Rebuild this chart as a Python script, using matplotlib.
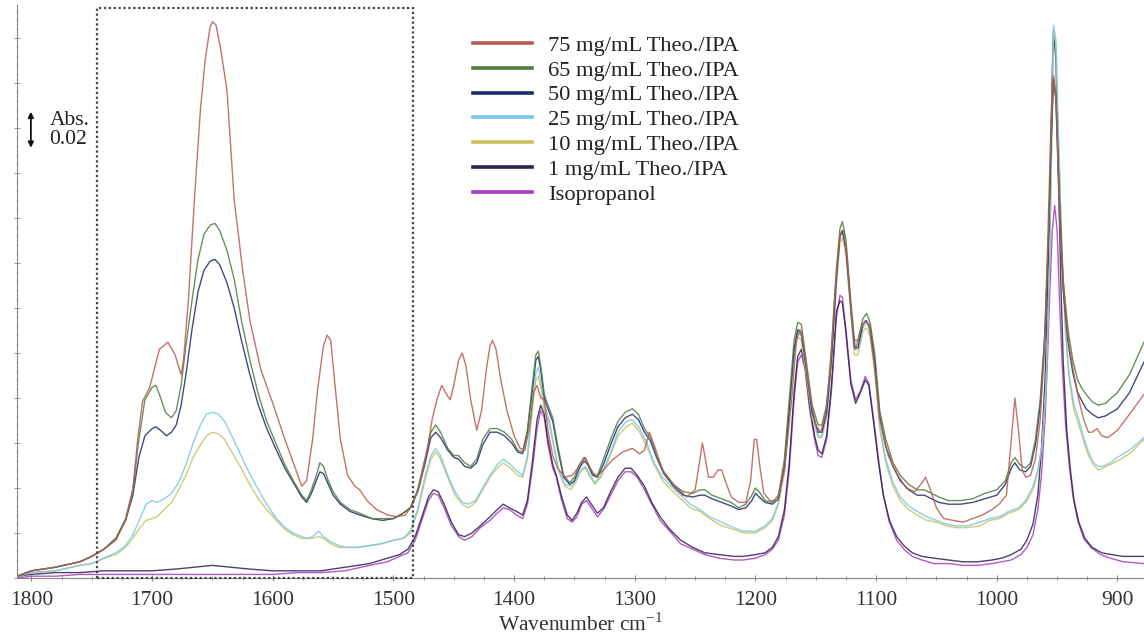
import matplotlib
matplotlib.use("Agg")
import matplotlib.pyplot as plt
from matplotlib.patches import Rectangle
from matplotlib.ticker import MultipleLocator

plt.rcParams['font.family'] = ['Liberation Serif', 'DejaVu Serif']
plt.rcParams['mathtext.fontset'] = 'custom'
plt.rcParams['mathtext.rm'] = 'Liberation Serif'

# ---------------- data (wavenumber cm-1, absorbance in mAbs) ----------------
spec_75 = [(1812,1),(1800,4),(1780,6),(1760,9),(1750,12),(1740,16),(1730,21),(1722,32),(1716,49),(1712,77),
(1708,98),(1702,106),(1694,127),(1687,131),(1681,124),(1676,113),(1674,121),(1670,154),(1665,210),(1660,260),
(1656,288),(1652,306),(1650,309),(1647,307),(1643,293),(1638,271),(1632,210),(1625,171),(1619,143),(1610,116),
(1600,97),(1590,77),(1583,64),(1576,51),(1572,54),(1567,77),(1563,104),(1558,129),(1555,135),(1552,132),
(1548,104),(1544,77),(1538,57),(1532,51),(1528,49),(1522,43),(1514,38),(1505,35),(1497,34),(1490,35),
(1484,41),(1478,52),(1472,71),(1468,88),(1464,99),(1460,107),(1456,102),(1453,99),(1450,107),(1446,121),
(1443,125),(1440,118),(1436,99),(1431,82),(1427,93),(1423,116),(1420,129),(1418,132),(1415,127),(1411,110),
(1406,93),(1400,79),(1395,72),(1391,71),(1387,85),(1384,103),(1381,107),(1378,100),(1375,99),(1372,82),
(1368,68),(1364,61),(1358,56),(1352,57),(1346,62),(1341,67),(1337,61),(1332,56),(1326,60),(1318,66),
(1310,70),(1302,72),(1296,69),(1292,71),(1288,81),(1284,74),(1277,60),(1268,52),(1257,45),(1250,49),
(1246,66),(1244,75),(1242,68),(1239,56),(1235,56),(1231,60),(1228,60),(1224,52),(1220,45),(1214,42),
(1208,42),(1204,54),(1201,77),(1199,77),(1196,60),(1193,47),(1188,43),(1182,43),(1176,60),(1170,99),
(1166,132),(1163,138),(1160,129),(1155,102),(1150,85),(1146,81),(1142,91),(1138,116),(1134,160),(1130,191),
(1127,193),(1124,177),(1120,141),(1117,127),(1113,138),(1109,143),(1106,141),(1102,121),(1097,88),(1090,68),
(1082,57),(1075,50),(1068,48),(1063,52),(1059,56),(1055,49),(1050,39),(1044,33),(1036,32),(1028,31),
(1020,33),(1012,35),(1004,38),(998,41),(992,46),(988,77),(985,100),(982,82),(979,60),(976,56),
(972,57),(968,66),(964,88),(961,121),(958,182),(955,254),(953,278),(951,266),(948,199),(944,154),
(940,129),(936,113),(932,99),(928,88),(924,81),(921,81),(917,83),(913,79),(908,78),(900,82),
(890,91),(878,102)]

spec_65 = [(1812,1),(1800,4),(1780,6),(1760,9),(1750,12),(1740,16),(1730,22),(1722,33),(1716,49),(1711,77),
(1706,99),(1700,106),(1697,107),(1694,102),(1689,92),(1684,89),(1680,93),(1676,107),(1672,129),(1667,154),
(1662,177),(1657,191),(1652,196),(1648,197),(1644,193),(1638,182),(1632,166),(1626,143),(1619,121),(1612,102),
(1605,87),(1597,74),(1590,63),(1583,54),(1576,46),(1572,43),(1568,49),(1564,57),(1561,64),(1558,62),
(1554,54),(1550,48),(1544,42),(1536,38),(1528,36),(1518,33),(1509,33),(1500,33),(1492,36),(1486,39),
(1480,49),(1474,66),(1469,81),(1465,85),(1461,81),(1455,72),(1450,68),(1446,68),(1441,64),(1436,62),
(1431,66),(1426,77),(1420,83),(1414,83),(1408,81),(1402,77),(1397,71),(1393,70),(1389,82),(1385,107),
(1382,124),(1380,126),(1378,118),(1375,102),(1372,96),(1368,89),(1364,74),(1359,57),(1354,53),(1350,56),
(1346,63),(1342,67),(1339,64),(1335,58),(1331,57),(1326,66),(1320,77),(1314,87),(1308,92),(1302,94),
(1297,91),(1292,83),(1287,78),(1282,68),(1276,59),(1268,52),(1260,48),(1252,47),(1246,49),(1242,49),
(1236,46),(1228,44),(1220,42),(1214,39),(1208,41),(1203,46),(1200,50),(1197,48),(1192,43),(1186,42),
(1181,46),(1176,66),(1172,99),(1168,132),(1165,142),(1162,141),(1158,121),(1153,96),(1148,85),(1145,85),
(1141,96),(1137,127),(1133,171),(1130,194),(1128,198),(1125,188),(1121,154),(1118,132),(1115,132),(1111,144),
(1108,147),(1105,142),(1101,124),(1097,93),(1092,77),(1086,64),(1080,57),(1073,52),(1066,49),(1060,49),
(1054,47),(1048,45),(1040,43),(1030,43),(1020,44),(1010,47),(1000,49),(993,54),(988,64),(985,67),
(981,63),(976,61),(972,64),(968,77),(964,99),(960,138),(957,193),(955,243),(953,279),(951,268),
(948,210),(945,166),(941,138),(937,121),(933,110),(930,106),(926,102),(921,98),(916,96),(910,97),
(900,103),(890,113),(878,131)]

spec_50 = [(1812,1),(1800,4),(1780,6),(1760,9),(1750,12),(1740,16),(1730,22),(1722,32),(1716,46),(1711,67),
(1706,79),(1700,83),(1697,84),(1693,82),(1688,79),(1684,81),(1680,85),(1676,96),(1672,113),(1667,138),
(1662,159),(1657,171),(1652,176),(1648,177),(1644,174),(1638,164),(1632,150),(1626,132),(1619,113),(1612,96),
(1605,83),(1597,71),(1590,61),(1583,53),(1576,45),(1572,42),(1568,47),(1564,54),(1561,59),(1558,58),
(1554,52),(1550,46),(1544,41),(1536,37),(1528,35),(1518,33),(1509,32),(1500,33),(1492,36),(1486,39),
(1480,48),(1474,63),(1469,78),(1465,81),(1461,78),(1455,71),(1450,67),(1446,66),(1441,62),(1436,61),
(1431,64),(1426,74),(1420,81),(1414,81),(1408,79),(1402,75),(1397,70),(1393,69),(1389,81),(1385,104),
(1382,121),(1380,123),(1378,116),(1375,100),(1372,94),(1368,87),(1364,72),(1359,56),(1354,52),(1350,54),
(1346,61),(1342,65),(1339,63),(1335,57),(1331,56),(1326,63),(1320,74),(1314,84),(1308,89),(1302,91),
(1297,88),(1292,81),(1287,76),(1282,67),(1276,58),(1268,51),(1260,46),(1252,45),(1246,46),(1242,46),
(1236,44),(1228,42),(1220,40),(1214,38),(1208,39),(1203,43),(1200,47),(1197,45),(1192,42),(1186,41),
(1181,44),(1176,62),(1172,94),(1168,127),(1165,138),(1162,136),(1158,117),(1153,92),(1148,81),(1145,81),
(1141,92),(1137,122),(1133,166),(1130,190),(1128,193),(1125,183),(1121,151),(1118,128),(1115,128),(1111,141),
(1108,143),(1105,139),(1101,120),(1097,90),(1092,73),(1086,62),(1080,54),(1073,49),(1066,46),(1060,46),
(1054,44),(1048,42),(1040,41),(1030,41),(1020,42),(1010,44),(1000,46),(993,52),(988,61),(985,64),
(981,60),(976,59),(972,62),(968,74),(964,96),(960,135),(957,191),(955,241),(953,277),(951,266),
(948,207),(945,160),(941,131),(937,114),(933,103),(930,99),(926,94),(921,91),(916,89),(910,90),
(900,94),(890,103),(878,120)]

spec_25 = [(1812,1),(1800,3),(1780,4),(1760,7),(1750,8),(1740,11),(1730,14),(1722,18),(1716,24),(1710,33),
(1705,41),(1700,43),(1696,42),(1690,44),(1684,47),(1678,53),(1672,63),(1666,75),(1660,85),(1655,91),
(1650,92),(1645,91),(1640,87),(1634,79),(1627,69),(1620,59),(1612,49),(1605,41),(1597,33),(1590,28),
(1583,25),(1576,23),(1572,22),(1567,23),(1562,26),(1558,23),(1552,20),(1545,18),(1539,17),(1530,17),
(1520,18),(1510,19),(1500,21),(1492,22),(1486,26),(1480,38),(1474,56),(1469,68),(1465,72),(1461,68),
(1455,57),(1449,48),(1443,42),(1438,41),(1432,43),(1426,50),(1420,57),(1414,63),(1409,66),(1403,63),
(1397,59),(1393,57),(1389,68),(1385,96),(1382,114),(1380,117),(1378,110),(1375,96),(1371,88),(1367,74),
(1363,60),(1358,52),(1353,51),(1349,54),(1345,60),(1341,62),(1337,57),(1333,53),(1328,57),(1321,68),
(1314,81),(1307,87),(1302,88),(1296,83),(1290,75),(1284,64),(1277,56),(1270,51),(1262,46),(1254,41),
(1246,38),(1238,34),(1228,31),(1218,28),(1210,26),(1200,26),(1192,29),(1186,33),(1181,42),(1176,60),
(1172,93),(1168,127),(1165,137),(1162,134),(1158,116),(1153,91),(1148,79),(1145,79),(1141,91),(1137,121),
(1133,164),(1130,189),(1128,192),(1125,182),(1121,149),(1118,127),(1115,127),(1111,139),(1108,142),(1105,137),
(1101,117),(1097,85),(1092,66),(1086,53),(1080,45),(1073,40),(1066,37),(1058,34),(1050,32),(1042,30),
(1034,29),(1024,29),(1014,31),(1006,33),(998,34),(990,37),(982,39),(976,43),(970,51),(966,60),
(962,77),(959,110),(956,182),(954,266),(953,307),(951,299),(949,249),(946,182),(943,138),(940,113),
(936,96),(932,88),(928,78),(924,70),(920,64),(916,62),(912,62),(906,64),(900,67),(890,71),(878,78)]

spec_10 = [(1812,1),(1800,3),(1780,4),(1760,7),(1750,8),(1740,11),(1730,13),(1722,17),(1716,22),(1710,28),
(1705,32),(1700,33),(1696,34),(1690,38),(1684,42),(1678,49),(1672,57),(1666,67),(1660,74),(1655,79),
(1650,81),(1645,80),(1640,77),(1634,70),(1627,62),(1620,53),(1612,44),(1605,38),(1597,32),(1590,27),
(1583,24),(1576,22),(1572,22),(1567,22),(1562,23),(1558,22),(1552,19),(1545,17),(1539,17),(1530,17),
(1520,18),(1510,19),(1500,21),(1492,22),(1486,25),(1480,37),(1474,54),(1469,66),(1465,70),(1461,66),
(1455,56),(1449,46),(1443,41),(1438,39),(1432,42),(1426,49),(1420,56),(1414,61),(1409,64),(1403,61),
(1397,57),(1393,56),(1389,66),(1385,92),(1382,110),(1380,112),(1378,106),(1375,93),(1371,86),(1367,72),
(1363,59),(1358,51),(1353,49),(1349,53),(1345,59),(1341,61),(1337,56),(1333,52),(1328,56),(1321,67),
(1314,79),(1307,84),(1302,86),(1296,81),(1290,73),(1284,63),(1277,54),(1270,49),(1262,44),(1254,39),
(1246,37),(1238,33),(1228,29),(1218,27),(1210,25),(1200,25),(1192,28),(1186,32),(1181,41),(1176,58),
(1172,91),(1168,124),(1165,134),(1162,132),(1158,113),(1153,89),(1148,78),(1145,78),(1141,89),(1137,119),
(1133,162),(1130,186),(1128,189),(1125,179),(1121,147),(1118,124),(1115,124),(1111,137),(1108,139),(1105,134),
(1101,114),(1097,83),(1092,64),(1086,51),(1080,43),(1073,38),(1066,35),(1058,32),(1050,31),(1042,29),
(1034,28),(1024,28),(1014,29),(1006,32),(998,33),(990,36),(982,38),(976,42),(970,49),(966,59),
(962,76),(959,109),(956,181),(954,263),(953,304),(951,296),(949,246),(946,179),(943,135),(940,110),
(936,93),(932,85),(928,76),(924,68),(920,63),(916,60),(912,61),(906,63),(900,65),(890,69),(878,77)]

spec_1 = [(1812,1),(1800,2),(1780,3),(1760,3),(1740,4),(1720,4),(1700,4),(1680,5),(1665,6),(1650,7),
(1635,6),(1620,5),(1600,4),(1580,4),(1560,4),(1540,6),(1520,8),(1505,11),(1495,13),(1488,16),
(1482,23),(1476,35),(1471,45),(1467,49),(1463,48),(1458,41),(1452,31),(1446,24),(1441,23),(1435,25),
(1428,29),(1420,34),(1414,38),(1409,41),(1404,39),(1398,37),(1393,35),(1389,43),(1385,64),(1381,88),
(1378,96),(1375,91),(1372,77),(1368,63),(1365,57),(1361,46),(1356,35),(1352,32),(1348,36),(1344,42),
(1340,45),(1336,41),(1331,36),(1326,39),(1320,48),(1314,56),(1308,61),(1303,61),(1298,57),(1292,51),
(1286,42),(1279,34),(1271,27),(1262,21),(1252,17),(1242,14),(1230,13),(1218,12),(1210,12),(1200,13),
(1192,14),(1186,17),(1181,23),(1176,38),(1172,64),(1168,103),(1165,123),(1162,127),(1159,118),(1155,96),
(1151,79),(1148,71),(1145,69),(1141,79),(1137,107),(1133,148),(1130,154),(1128,153),(1125,136),(1121,108),
(1117,97),(1113,103),(1109,110),(1106,107),(1102,86),(1098,64),(1094,46),(1089,32),(1083,23),(1077,18),
(1070,14),(1062,12),(1052,11),(1040,10),(1028,9),(1016,9),(1004,10),(996,11),(988,13),(980,16),
(975,21),(970,30),(966,46),(963,71),(960,110),(958,154),(956,216),(954,282),(953,304),(951,288),
(949,227),(947,166),(945,121),(942,82),(939,60),(936,43),(932,31),(927,22),(921,17),(913,14),
(905,13),(895,12),(878,12)]

spec_ipa = [(1812,0),(1800,1),(1780,1),(1760,2),(1740,2),(1720,2),(1700,2),(1680,2),(1660,2),(1640,2),
(1620,2),(1600,2),(1580,3),(1560,3),(1540,4),(1520,7),(1505,9),(1495,12),(1488,14),(1482,21),
(1476,33),(1471,43),(1467,47),(1463,46),(1458,39),(1452,29),(1446,23),(1441,21),(1435,23),(1428,28),
(1420,32),(1414,36),(1409,39),(1404,38),(1398,35),(1393,33),(1389,41),(1385,60),(1381,83),(1378,93),
(1375,89),(1372,74),(1368,61),(1365,56),(1361,44),(1356,33),(1352,31),(1348,34),(1344,41),(1340,43),
(1336,39),(1331,34),(1326,38),(1320,46),(1314,54),(1308,59),(1303,59),(1298,56),(1292,49),(1286,41),
(1279,32),(1271,26),(1262,19),(1252,16),(1242,13),(1230,11),(1218,10),(1210,10),(1200,11),(1192,13),
(1186,16),(1181,21),(1176,35),(1172,60),(1168,99),(1165,120),(1162,124),(1159,116),(1155,93),(1151,77),
(1148,68),(1145,67),(1141,77),(1137,104),(1133,144),(1130,157),(1128,156),(1125,138),(1121,110),(1117,99),
(1113,104),(1109,112),(1106,108),(1102,88),(1098,66),(1094,46),(1089,31),(1083,21),(1077,16),(1070,12),
(1062,10),(1052,8),(1040,8),(1028,7),(1016,7),(1004,8),(996,9),(988,10),(980,13),(975,17),
(970,24),(966,38),(963,57),(960,88),(958,121),(956,160),(954,193),(952,207),(950,193),(948,154),
(946,121),(943,85),(940,63),(937,46),(933,32),(928,22),(922,17),(914,13),(906,11),(895,9),(878,8)]

labels = ["75 mg/mL Theo./IPA", "65 mg/mL Theo./IPA", "50 mg/mL Theo./IPA",
          "25 mg/mL Theo./IPA", "10 mg/mL Theo./IPA", "1 mg/mL Theo./IPA", "Isopropanol"]
spectra = [spec_75, spec_65, spec_50, spec_25, spec_10, spec_1, spec_ipa]
colors = ["#b85a50", "#4f7d3e", "#1f2c6c", "#78c6ea", "#c6c35c", "#2c2150", "#a83cbe"]

x_ticks = [1800, 1700, 1600, 1500, 1400, 1300, 1200, 1100, 1000, 900]
box_range = (1746, 1484)
scale_bar = 20  # mAbs = 0.02 Abs

# ---------------- figure ----------------
fig = plt.figure(figsize=(11.44, 6.38), dpi=100)
ax = fig.add_axes([17/1144, 60/638, 1127/1144, 573/638])
ax.set_xlim(1812, 878)
ax.set_ylim(0, 318.3)

for spec, c in zip(spectra[::-1], colors[::-1]):
    xs = [p[0] for p in spec]
    ys = [p[1] for p in spec]
    ax.plot(xs, ys, color=c, lw=1.0, alpha=0.85, solid_joinstyle='round')

# legend handles
handles = [plt.Line2D([], [], color=c, lw=2.6) for c in colors]
leg = ax.legend(handles, labels, loc='upper left', bbox_to_anchor=(0.391, 0.975),
                frameon=False, fontsize=16.2, handlelength=2.6, handletextpad=0.72,
                labelspacing=0.18, borderpad=0.2)
for t in leg.get_texts():
    t.set_color('#222222')

# dotted box
ax.add_patch(Rectangle((box_range[0], 0), box_range[1] - box_range[0], 316.7,
                       fill=False, edgecolor='#444444', lw=1.6, linestyle=(0, (1, 1.2)),
                       clip_on=False, zorder=5))

# scale bar
ax.annotate('', xy=(1800.5, 239), xytext=(1800.5, 239 + scale_bar),
            arrowprops=dict(arrowstyle='<|-|>', color='#111111', lw=1.3,
                            mutation_scale=8, shrinkA=0, shrinkB=0))
ax.text(1785, 249, 'Abs.\n0.02', fontsize=15.5, ha='left', va='center',
        color='#222222', linespacing=1.0)

# axes styling
for s in ['top', 'right']:
    ax.spines[s].set_visible(False)
for s in ['left', 'bottom']:
    ax.spines[s].set_color('#888888')
    ax.spines[s].set_linewidth(0.8)
ax.set_xticks(x_ticks)
ax.xaxis.set_minor_locator(MultipleLocator(25))
ax.yaxis.set_major_locator(MultipleLocator(25))
ax.yaxis.set_minor_locator(MultipleLocator(5))
ax.tick_params(axis='x', which='major', direction='inout', length=5, width=0.8,
               color='#888888', labelsize=15.5, labelcolor='#333333', pad=7)
ax.tick_params(axis='x', which='minor', direction='inout', length=3, width=0.7, color='#999999')
ax.tick_params(axis='y', which='major', direction='inout', length=4, width=0.7,
               color='#999999', labelleft=False)
ax.tick_params(axis='y', which='minor', direction='inout', length=2, width=0.5, color='#aaaaaa')
ax.set_xlabel('Wavenumber cm$^{-1}$', fontsize=15.5, color='#333333', labelpad=2)

fig.savefig('out.png', dpi=100)
